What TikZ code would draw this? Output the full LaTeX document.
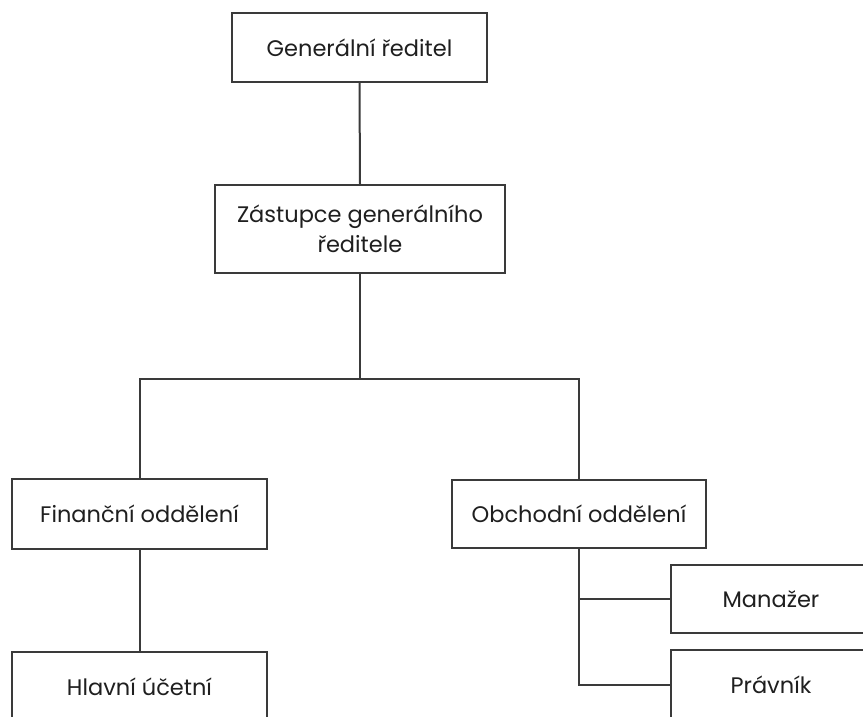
\documentclass[tikz,border=0pt]{standalone}
\usepackage{fontspec}
\setmainfont{Poppins}
\usepackage{xcolor}
\usetikzlibrary{positioning,calc}
\definecolor{boxline}{HTML}{3A3A3A}
\definecolor{boxtext}{HTML}{1F1F1F}

\begin{document}
\begin{tikzpicture}[x=1pt, y=-1pt,
    orgbox/.style={draw=boxline, line width=1.8pt, fill=white, text=boxtext,
      align=center, inner sep=0pt, font=\fontsize{22.5}{30}\selectfont},
    link/.style={draw=boxline, line width=2pt}]
  \useasboundingbox (0,0) rectangle (863,716);
  \clip (0,0) rectangle (863,716);
  % boxes
  \node[orgbox, minimum width=255pt, minimum height=69pt] (gen) at (359.5,47.5) {Generální ředitel};
  \node[orgbox, minimum width=290pt, minimum height=88pt] (zast) at (360,229) {Zástupce generálního\\ředitele};
  \node[orgbox, minimum width=255pt, minimum height=70pt] (fin) at (139.5,514) {Finanční oddělení};
  \node[orgbox, minimum width=254pt, minimum height=68pt] (obch) at (579,514) {Obchodní oddělení};
  \node[orgbox, minimum width=255pt, minimum height=70pt] (hlav) at (139.5,687) {Hlavní účetní};
  \node[orgbox, minimum width=200pt, minimum height=68pt] (man) at (771,599) {Manažer};
  \node[orgbox, minimum width=200pt, minimum height=70pt] (prav) at (771,685) {Právník};
  % connectors
  \coordinate (split) at ($(zast.south)+(0,105)$);
  \draw[link] (gen.south) -- (zast.north);
  \draw[link] (zast.south) -- (split);
  \draw[link] (fin.north) |- (split) -| (obch.north);
  \draw[link] (fin.south) -- (hlav.north);
  \draw[link] (obch.south) |- (prav.west);
  \draw[link] (obch.south |- man.west) -- (man.west);
\end{tikzpicture}
\end{document}
